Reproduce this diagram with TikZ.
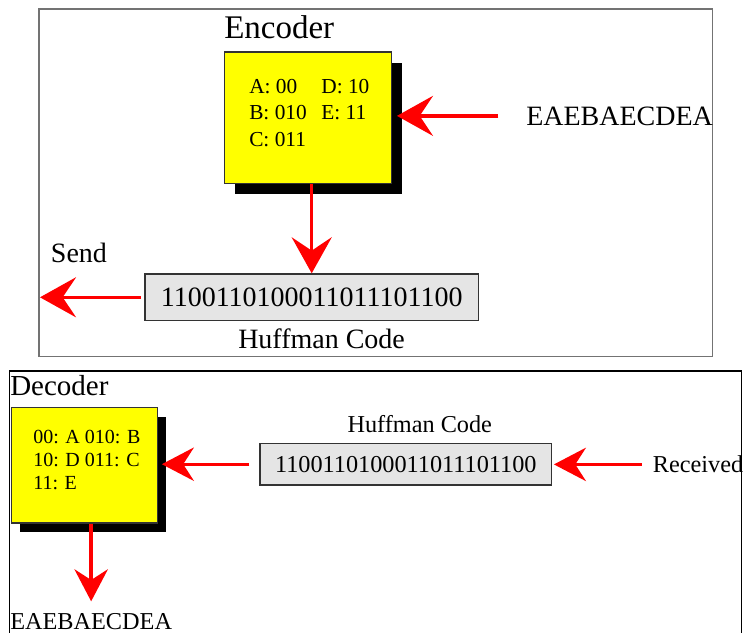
\documentclass[tikz,border=0pt]{standalone}
\usepackage{fontspec}
\setmainfont{Liberation Serif}
\usetikzlibrary{arrows.meta,shadows,calc}
\definecolor{boxyellow}{RGB}{255,255,0}
\definecolor{codegray}{RGB}{229,229,229}

\begin{document}
\begin{tikzpicture}[x=0.75pt, y=-0.75pt,
  tbl/.style={draw=black!80, fill=boxyellow, line width=1pt, inner sep=0pt},
  codebox/.style={draw=black!80, fill=codegray, line width=1pt, inner sep=0pt},
  lbl/.style={inner sep=0pt, anchor=base west},
  encarrow/.style={-{Stealth[length=27pt, width=30pt, inset=10pt]}, red, line width=2.5pt},
  decarrow/.style={-{Stealth[length=24pt, width=25pt, inset=8pt]}, red, line width=2.5pt}]
\useasboundingbox (0,0) rectangle (744,633);

\draw[black!55, line width=1pt] (39,9) rectangle (712.5,356.5);
\draw[black, line width=1pt] (9.5,371) rectangle (741.5,640);

\node[lbl, font=\fontsize{24.75}{28}\selectfont] (enctitle) at (224,38) {Encoder};
\node[tbl, minimum width=125pt, minimum height=98.5pt, drop shadow={shadow xshift=8pt, shadow yshift=-8pt, fill=black, opacity=1}] (enc) at (308,117.5) {};
\node[anchor=north west, inner sep=0pt, font=\fontsize{16}{20}\selectfont] (enctab) at (249,74.3)
  {\begin{tabular}{@{}l@{\hspace{11pt}}l@{}}A: 00 & D: 10\\ B: 010 & E: 11\\ C: 011 & \end{tabular}};
\node[lbl, font=\fontsize{21}{25}\selectfont] (msg) at (526,125) {EAEBAECDEA};
\node[codebox, minimum width=250pt, minimum height=35pt, font=\fontsize{21}{25}\selectfont] (code) at (311.7,297.3) {1100110100011011101100\hspace{4.5pt}};
\node[lbl, font=\fontsize{21}{25}\selectfont] (codelbl) at (238,348) {Huffman Code};
\node[lbl, font=\fontsize{21}{25}\selectfont] (send) at (50.7,262) {Send};
\coordinate (sendto) at (40,297.3);

\draw[encarrow, shorten <=20.8pt, shorten >=3.75pt] (msg.west) -- (enc.east |- msg.west);
\draw[encarrow] (code.north |- enc.south) -- (code.north);
\draw[encarrow, shorten <=2.5pt] (code.west) -- (sendto);

\node[lbl, font=\fontsize{21.75}{25}\selectfont] (dectitle) at (10,395) {Decoder};
\node[tbl, minimum width=109.5pt, minimum height=86.5pt, drop shadow={shadow xshift=6.75pt, shadow yshift=-6.75pt, fill=black, opacity=1}] (dec) at (84.2,465.2) {};
\node[anchor=north west, inner sep=0pt, font=\fontsize{15}{17.25}\selectfont] (dectab) at (33,427)
  {\begin{tabular}{@{}l@{}}00: A 010: B\\ 10: D 011: C\\ 11: E\end{tabular}};
\node[codebox, minimum width=218.8pt, minimum height=31.3pt, font=\fontsize{18.2}{22}\selectfont] (dcode) at (405.8,464.2) {1100110100011011101100\hspace{4.5pt}};
\node[lbl, font=\fontsize{18.2}{22}\selectfont] (dcodelbl) at (347.3,432.3) {Huffman Code};
\node[lbl, font=\fontsize{18.2}{22}\selectfont] (recv) at (652.7,472.7) {Received};
\node[lbl, font=\fontsize{18.2}{22}\selectfont] (decout) at (10,629) {EAEBAECDEA};

\draw[decarrow, shorten <=8.25pt, shorten >=1.2pt] (recv.west) -- (dcode.east |- recv.west);
\draw[decarrow, shorten <=7.5pt, shorten >=3pt] (dcode.west) -- (dec.east |- dcode.west);
\draw[decarrow, shorten >=8.5pt] (decout.north |- dec.south) -- (decout.north);
\end{tikzpicture}
\end{document}
